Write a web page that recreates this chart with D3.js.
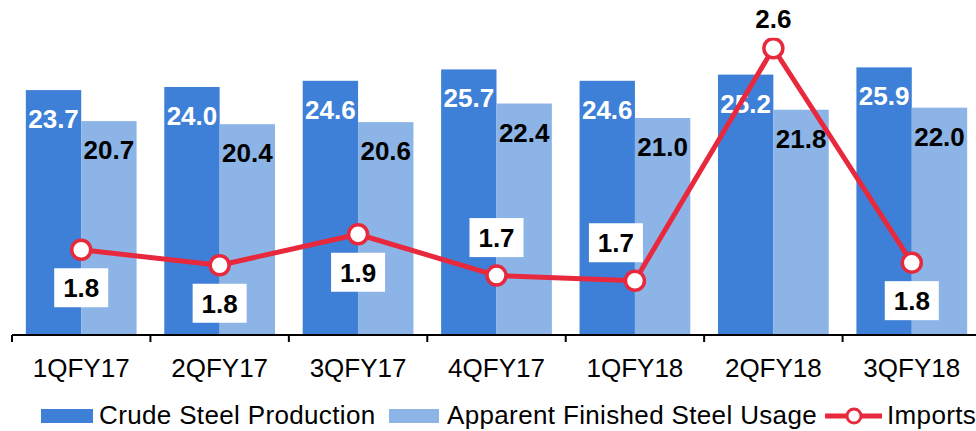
<!DOCTYPE html>
<html lang="en">
<head>
    <meta charset="UTF-8">
    <title>Steel chart</title>
    <style>
        body { margin: 0; background: #fff; }
        svg { display: block; font-family: "Liberation Sans", Arial, sans-serif; }
    </style>
</head>
<body>
    <div id="wrapper"></div>
    <script src="https://d3js.org/d3.v7.min.js"></script>
    <script>
        // data
        const quarters = ['1QFY17', '2QFY17', '3QFY17', '4QFY17', '1QFY18', '2QFY18', '3QFY18'];
        const crudeSteel = [23.7, 24.0, 24.6, 25.7, 24.6, 25.2, 25.9];
        const finishedUsage = [20.7, 20.4, 20.6, 22.4, 21.0, 21.8, 22.0];
        const imports = [1.83, 1.77, 1.89, 1.73, 1.71, 2.61, 1.78];
        const importLabelSide = ['below', 'below', 'below', 'above', 'above', 'above', 'below'];
        const seriesNames = ['Crude Steel Production', 'Apparent Finished Steel Usage', 'Imports'];

        const width = 976, height = 431;
        const left = 12, right = 981, baseY = 335, topY = 25;
        const darkBlue = '#3e80d7', lightBlue = '#8cb4e6', red = '#e8293d';

        const svg = d3.select('#wrapper').append('svg')
            .attr('width', width)
            .attr('height', height);

        // scales
        const x = d3.scaleBand().domain(quarters).range([left, right]);
        const y = d3.scaleLinear().domain([0, 30]).range([baseY, topY]);
        const y2 = d3.scaleLinear().domain([1.5, 2.7]).range([baseY, topY]);
        const bw = x.bandwidth();
        const barW = bw * 0.4;

        // bars
        const groups = svg.append('g').selectAll('g')
            .data(quarters)
            .join('g')
            .attr('transform', d => `translate(${x(d)},0)`);

        groups.append('rect')
            .attr('x', bw * 0.1)
            .attr('y', (d, i) => y(crudeSteel[i]))
            .attr('width', barW)
            .attr('height', (d, i) => baseY - y(crudeSteel[i]))
            .attr('fill', darkBlue);

        groups.append('rect')
            .attr('x', bw * 0.5)
            .attr('y', (d, i) => y(finishedUsage[i]))
            .attr('width', barW)
            .attr('height', (d, i) => baseY - y(finishedUsage[i]))
            .attr('fill', lightBlue);

        // bar labels
        groups.append('text')
            .attr('x', bw * 0.1 + barW / 2)
            .attr('y', (d, i) => y(crudeSteel[i]) + 38)
            .attr('text-anchor', 'middle')
            .attr('font-size', 26).attr('font-weight', 'bold')
            .attr('fill', '#fff')
            .text((d, i) => d3.format('.1f')(crudeSteel[i]));

        groups.append('text')
            .attr('x', bw * 0.5 + barW / 2)
            .attr('y', (d, i) => y(finishedUsage[i]) + 38)
            .attr('text-anchor', 'middle')
            .attr('font-size', 26).attr('font-weight', 'bold')
            .attr('fill', '#000')
            .text((d, i) => d3.format('.1f')(finishedUsage[i]));

        // x axis
        const axis = svg.append('g');
        axis.append('line')
            .attr('x1', left).attr('x2', right)
            .attr('y1', baseY).attr('y2', baseY)
            .attr('stroke', '#000').attr('stroke-width', 2);
        axis.selectAll('.tick')
            .data(quarters)
            .join('line')
            .attr('class', 'tick')
            .attr('x1', d => x(d)).attr('x2', d => x(d))
            .attr('y1', baseY).attr('y2', baseY + 7)
            .attr('stroke', '#000').attr('stroke-width', 2);
        axis.selectAll('.lbl')
            .data(quarters)
            .join('text')
            .attr('class', 'lbl')
            .attr('x', d => x(d) + bw / 2)
            .attr('y', 377)
            .attr('text-anchor', 'middle')
            .attr('font-size', 26)
            .text(d => d);

        // imports line
        const cx = (d, i) => x(quarters[i]) + bw / 2;
        const line = d3.line()
            .x((d, i) => cx(d, i))
            .y(d => y2(d));

        svg.append('path')
            .datum(imports)
            .attr('d', line)
            .attr('fill', 'none')
            .attr('stroke', red)
            .attr('stroke-width', 5)
            .attr('stroke-linejoin', 'round');

        svg.append('g').selectAll('circle')
            .data(imports)
            .join('circle')
            .attr('cx', cx)
            .attr('cy', d => y2(d))
            .attr('r', 9.5)
            .attr('fill', '#fff')
            .attr('stroke', red)
            .attr('stroke-width', 3.5);

        // imports labels in white boxes
        const lbl = svg.append('g').selectAll('g')
            .data(imports)
            .join('g')
            .attr('transform', (d, i) => {
                const side = importLabelSide[i];
                let dy = side === 'below' ? 38 : -38;
                let dx = 0;
                if (i === 4) dx = -19;
                if (i === 5) dy = -30;
                return `translate(${cx(d, i) + dx},${y2(d) + dy})`;
            });
        lbl.append('rect')
            .attr('x', -27).attr('y', -19.5)
            .attr('width', 54).attr('height', 39)
            .attr('fill', '#fff');
        lbl.append('text')
            .attr('y', 9.5)
            .attr('text-anchor', 'middle')
            .attr('font-size', 26).attr('font-weight', 'bold')
            .text(d => d3.format('.1f')(d));

        // legend
        const legend = svg.append('g').attr('font-size', 26).attr('letter-spacing', 0.35);
        legend.append('rect').attr('x', 41).attr('y', 409).attr('width', 52).attr('height', 14).attr('fill', darkBlue);
        legend.append('text').attr('x', 99).attr('y', 424).text(seriesNames[0]);
        legend.append('rect').attr('x', 389).attr('y', 409).attr('width', 50).attr('height', 14).attr('fill', lightBlue);
        legend.append('text').attr('x', 447).attr('y', 424).text(seriesNames[1]);
        legend.append('line').attr('x1', 825).attr('x2', 882).attr('y1', 416).attr('y2', 416)
            .attr('stroke', red).attr('stroke-width', 5);
        legend.append('circle').attr('cx', 854).attr('cy', 416).attr('r', 7)
            .attr('fill', '#fff').attr('stroke', red).attr('stroke-width', 3);
        legend.append('text').attr('x', 887).attr('y', 424).text(seriesNames[2]);
    </script>
</body>
</html>
